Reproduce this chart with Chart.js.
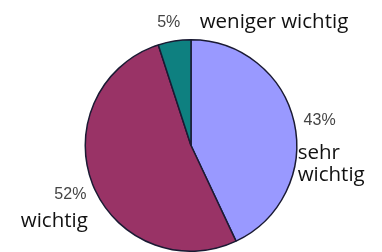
<!DOCTYPE html>
<html><head><meta charset="utf-8">
<script src="https://cdn.jsdelivr.net/npm/chart.js@4"></script>
<style>html,body{margin:0;padding:0;background:#fff}#wrap{width:382px;height:252px}</style>
</head><body><div id="wrap"><canvas id="c" width="382" height="252"></canvas></div>
<script>
const categories = ["sehr wichtig", "wichtig", "weniger wichtig"];
const values = [43, 52, 5];
const pctLabels = ["43%", "52%", "5%"];
const colors = ["#9999FF", "#993366", "#0E8080"];

// label layout relative to each slice's mid-angle point
const labelLayout = [
  {dist: 24, pdx: 2, pdy: 3, nameLines: ["sehr", "wichtig"], nx: -22, ny: 38.5, align: "left"},
  {dist: 24, pdx: 0, pdy: 1, nameLines: ["wichtig"], nx: 17.5, ny: 33, align: "right"},
  {dist: 24, pdx: -2, pdy: 5, nameLines: ["weniger wichtig"], nx: 31, ny: 6, align: "left"}
];

const labelPlugin = {
  id: 'outLabels',
  afterDatasetsDraw(chart) {
    const ctx = chart.ctx;
    const meta = chart.getDatasetMeta(0);
    meta.data.forEach((arc, i) => {
      const L = labelLayout[i];
      const mid = (arc.startAngle + arc.endAngle) / 2;
      const r = arc.outerRadius + L.dist;
      const px = arc.x + Math.cos(mid) * r + L.pdx;
      const py = arc.y + Math.sin(mid) * r + L.pdy;
      ctx.save();
      ctx.font = '16px "Liberation Sans", Arial, sans-serif';
      ctx.fillStyle = '#444444';
      ctx.textAlign = 'center';
      ctx.textBaseline = 'middle';
      ctx.fillText(pctLabels[i], px, py);
      ctx.font = '20.5px "Open Sans", sans-serif';
      ctx.fillStyle = '#111111';
      ctx.textAlign = L.align;
      ctx.textBaseline = 'alphabetic';
      L.nameLines.forEach((t, k) => {
        ctx.fillText(t, px + L.nx, py + L.ny + k * 22.5);
      });
      ctx.restore();
    });
  }
};

new Chart(document.getElementById('c'), {
  type: 'pie',
  data: {
    labels: categories,
    datasets: [{
      data: values,
      backgroundColor: colors,
      borderColor: '#1a1a33',
      borderWidth: 1.5,
      hoverOffset: 0
    }]
  },
  options: {
    responsive: false,
    animation: false,
    events: [],
    layout: {padding: {top: 39, bottom: 0, left: 0, right: 0}},
    plugins: {legend: {display: false}, tooltip: {enabled: false}}
  },
  plugins: [labelPlugin]
});
</script>
</body></html>
